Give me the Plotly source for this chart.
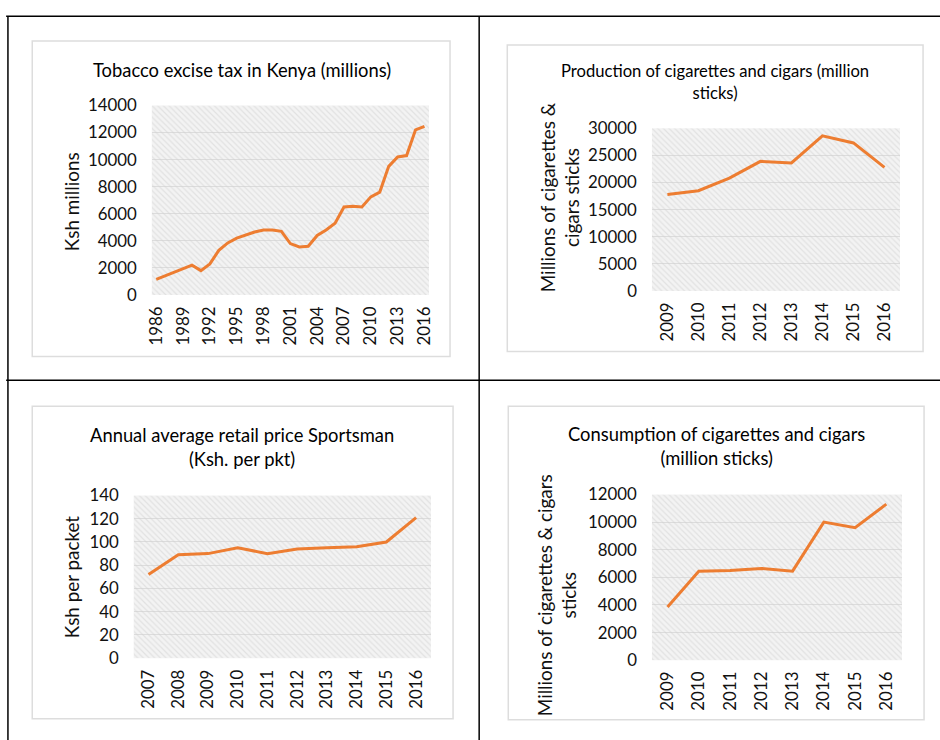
import plotly.graph_objects as go

# ---- data -----------------------------------------------------------------
tax_years = list(range(1986, 2017))
tax_values = [1150, 1400, 1650, 1900, 2200, 1800, 2300, 3300, 3850, 4200,
              4450, 4650, 4800, 4800, 4700, 3800, 3550, 3600, 4400, 4800,
              5300, 6500, 6550, 6500, 7250, 7600, 9500, 10200, 10300, 12200,
              12450]
tax_ticks = list(range(1986, 2017, 3))

prod_years = list(range(2009, 2017))
prod_values = [17800, 18500, 20800, 23900, 23600, 28600, 27300, 22800]

price_years = list(range(2007, 2017))
price_values = [72, 89, 90, 95, 90, 94, 95, 96, 100, 121]

cons_years = list(range(2009, 2017))
cons_values = [3850, 6450, 6500, 6650, 6450, 10000, 9600, 11300]

W, H = 940, 740
ORANGE = "#ED7D31"
FONT = "Lato"
# page coordinates -> figure coordinates (the page adds an 8px inset and is
# scaled back to the window size)
KX, KY, INSET = 0.983, 0.979, 8.0
FS = 1.02


def px(x):
    return (x / KX - INSET) / W


def py(y):
    return 1 - (y / KY - INSET) / H


panels = [
    dict(years=tax_years, values=tax_values, ticks=tax_ticks,
         ymax=14000, dtick=2000,
         title="Tobacco excise tax in Kenya (millions)", tsize=18,
         ytitle="Ksh millions",
         plot=(152, 428, 103, 294), box=(33, 449, 38, 356),
         title_xy=(242, 67), ytitle_xy=(72, 200)),
    dict(years=prod_years, values=prod_values, ticks=prod_years,
         ymax=30000, dtick=5000,
         title="Production of cigarettes and cigars (million<br>sticks)",
         tsize=16.3,
         ytitle="Millions of cigarettes &<br>cigars sticks",
         plot=(650, 897, 126, 290), box=(506, 920, 42, 351),
         title_xy=(713, 79), ytitle_xy=(558, 196)),
    dict(years=price_years, values=price_values, ticks=price_years,
         ymax=140, dtick=20,
         title="Annual average retail price Sportsman<br>(Ksh. per pkt)",
         tsize=18,
         ytitle="Ksh per packet",
         plot=(134, 430, 496, 660), box=(33, 452, 406, 721),
         title_xy=(242, 447), ytitle_xy=(72, 578)),
    dict(years=cons_years, values=cons_values, ticks=cons_years,
         ymax=12000, dtick=2000,
         title="Consumption of cigarettes and cigars<br>(million sticks)",
         tsize=18,
         ytitle="Millions of cigarettes & cigars<br>sticks",
         plot=(650, 899, 495, 662), box=(507, 921, 406, 722),
         title_xy=(714, 446), ytitle_xy=(555, 596)),
]

fig = go.Figure()
shapes = []
annotations = []

for i, p in enumerate(panels, start=1):
    xa = "x" if i == 1 else f"x{i}"
    ya = "y" if i == 1 else f"y{i}"
    x0, x1 = p["years"][0] - 0.5, p["years"][-1] + 0.5

    # hatched plot-area background
    fig.add_trace(go.Scatter(
        x=[x0, x1, x1, x0, x0], y=[0, 0, p["ymax"], p["ymax"], 0],
        xaxis=xa, yaxis=ya, mode="lines", line=dict(width=0),
        fill="toself", fillcolor="rgba(0,0,0,0)",
        fillpattern=dict(shape="\\", fgcolor="#D0D0D0",
                         bgcolor="rgba(0,0,0,0)", size=4, solidity=0.3),
        hoverinfo="skip", showlegend=False))

    # the series line
    fig.add_trace(go.Scatter(
        x=p["years"], y=p["values"], xaxis=xa, yaxis=ya,
        mode="lines", line=dict(color=ORANGE, width=3),
        showlegend=False))

    l, r, t, b = p["plot"]
    axis_font = dict(family=FONT, size=16.5 * FS, color="#111111")
    fig.layout[f"xaxis{'' if i == 1 else i}"] = dict(
        domain=[px(l), px(r)], anchor=ya, range=[x0, x1],
        tickmode="array", tickvals=p["ticks"],
        ticktext=[str(v) for v in p["ticks"]], tickangle=-90,
        showgrid=False, zeroline=False, showline=False,
        ticks="", ticklabelstandoff=7, tickfont=axis_font, fixedrange=True)
    fig.layout[f"yaxis{'' if i == 1 else i}"] = dict(
        domain=[py(b), py(t)], anchor=xa, range=[0, p["ymax"]],
        dtick=p["dtick"], tick0=0, tickformat="d",
        showgrid=True, gridcolor="#DCDCDC",
        gridwidth=1, zeroline=False, showline=False, ticks="",
        ticklabelstandoff=14, tickfont=axis_font, fixedrange=True)

    # chart frame
    bl, br, bt, bb = p["box"]
    shapes.append(dict(type="rect", xref="paper", yref="paper",
                       x0=px(bl), x1=px(br), y0=py(bb), y1=py(bt),
                       line=dict(color="#DDDDDD", width=1.5),
                       fillcolor="rgba(0,0,0,0)", layer="below"))

    tx, ty = p["title_xy"]
    annotations.append(dict(text=p["title"], x=px(tx), y=py(ty),
                            xref="paper", yref="paper", showarrow=False,
                            xanchor="center", yanchor="middle",
                            font=dict(family=FONT, size=p["tsize"] * FS,
                                      color="#000000")))
    ax_, ay_ = p["ytitle_xy"]
    annotations.append(dict(text=p["ytitle"], x=px(ax_), y=py(ay_),
                            xref="paper", yref="paper", showarrow=False,
                            textangle=-90, xanchor="center", yanchor="middle",
                            font=dict(family=FONT, size=18.5 * FS,
                                      color="#111111")))

# table rules separating the four panels
rule = dict(color="#000000", width=1.5)
for x0_, y0_, x1_, y1_ in [(7, 13, 960, 13), (8.8, 13, 8.8, 760),
                           (478, 13, 478, 760), (7, 380, 960, 380)]:
    shapes.append(dict(type="line", xref="paper", yref="paper",
                       x0=px(x0_), y0=py(y0_), x1=px(x1_), y1=py(y1_),
                       line=rule))

fig.update_layout(
    width=W, height=H, margin=dict(l=0, r=0, t=0, b=0),
    paper_bgcolor="white", plot_bgcolor="#F3F3F3",
    shapes=shapes, annotations=annotations, showlegend=False,
    font=dict(family=FONT),
)

fig.write_html("out.html")
